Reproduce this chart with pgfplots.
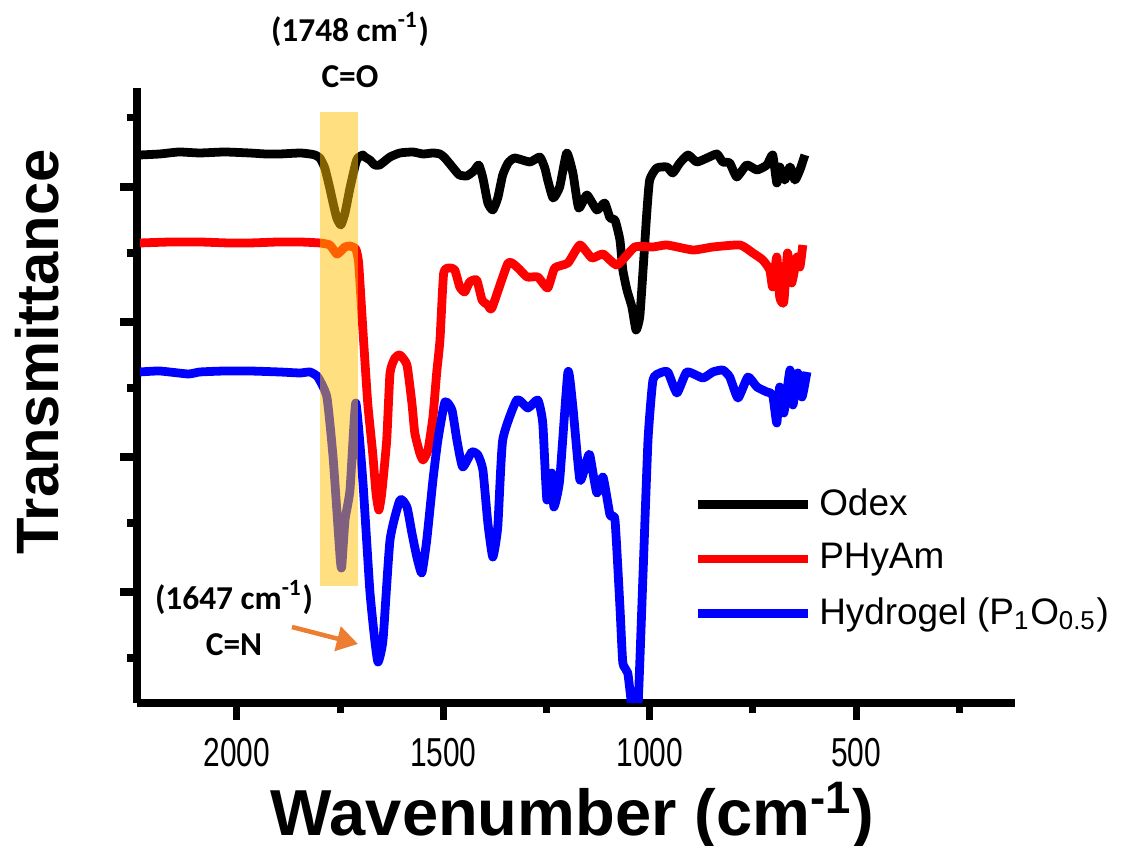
\documentclass[border=0pt]{standalone}
\usepackage{pgfplots}
\pgfplotsset{compat=1.18}
\usepackage{fontspec}
\setmainfont{Liberation Sans}
\newfontfamily\annofont{Carlito}
\newfontfamily\tickfont[FakeStretch=0.74]{Liberation Sans}
\usetikzlibrary{arrows.meta}

\definecolor{bandgold}{HTML}{FFC000}
\definecolor{arroworange}{HTML}{ED7D31}

% FTIR spectra (wavenumber in cm^-1, offset transmittance in arbitrary units)
\pgfplotstableread{
w v
2235 548
2187 549
2140 551
2090 550
2030 551
1969 550
1930 549
1896 549
1847 550
1823 549
1811 548
1799 545
1787 535
1775 515
1767 500
1758 485
1748 478
1738 490
1726 515
1712 540
1707 545
1695 548
1690 546
1678 543
1666 538
1654 538
1629 546
1605 550
1574 551
1549 549
1525 550
1508 549
1496 545
1472 533
1461 528
1443 527
1426 532
1414 538
1404 525
1392 500
1380 493
1368 505
1356 528
1343 540
1327 545
1290 541
1266 546
1254 535
1247 523
1234 505
1218 516
1201 550
1186 530
1172 495
1152 508
1128 493
1109 500
1096 485
1084 483
1072 463
1065 433
1055 413
1043 396
1033 373
1024 386
1016 433
1007 490
1000 523
983 535
958 536
944 530
927 540
907 548
886 541
861 545
837 549
823 541
806 540
789 526
765 538
740 533
716 538
702 548
692 520
685 536
673 523
660 536
648 523
636 533
624 548
}\odex

\pgfplotstableread{
w v
2235 460
2160 461
2090 461
2020 460
1969 460
1900 461
1847 461
1799 460
1775 458
1758 449
1748 452
1738 456
1726 457
1712 454
1705 440
1695 375
1683 300
1671 250
1663 210
1656 193
1649 210
1637 263
1629 330
1617 345
1605 348
1588 338
1576 300
1569 270
1557 250
1549 243
1537 253
1525 286
1516 330
1508 363
1499 430
1484 435
1472 433
1460 416
1448 411
1436 421
1419 423
1406 403
1392 398
1382 395
1343 440
1319 435
1297 426
1271 426
1247 415
1230 435
1198 440
1169 458
1140 445
1113 449
1079 438
1036 456
992 456
958 458
895 453
847 456
781 458
750 450
726 443
709 433
702 416
692 446
685 406
675 401
666 450
656 420
643 446
636 436
629 458
}\phyam

\pgfplotstableread{
w v
2235 331
2187 332
2118 329
2090 331
2030 332
1969 332
1896 331
1847 330
1823 331
1804 326
1782 306
1767 246
1750 146
1746 136
1738 183
1726 213
1712 300
1695 223
1678 113
1666 63
1658 41
1646 63
1629 163
1605 203
1588 196
1576 170
1564 146
1552 130
1540 163
1525 223
1513 263
1496 301
1479 293
1467 263
1453 236
1431 251
1416 248
1404 233
1392 180
1380 146
1368 176
1356 263
1322 303
1295 295
1271 303
1259 280
1249 203
1237 230
1232 196
1218 223
1198 331
1186 296
1169 223
1152 243
1145 248
1128 210
1113 226
1096 188
1084 183
1072 96
1065 40
1053 30
1041 -10
1029 -10
1016 130
1004 263
992 323
975 330
956 331
934 310
910 331
871 325
847 331
823 333
806 326
786 305
762 326
740 316
716 311
702 308
692 280
685 316
675 290
660 333
653 298
641 330
631 306
619 331
}\hydrogel

\begin{document}
\begin{tikzpicture}
\useasboundingbox (-1.37,-1.43) rectangle (9.94,7.03);
\begin{axis}[
  at={(0,0)}, anchor=south west,
  scale only axis, width=8.78cm, height=6.15cm,
  x dir=reverse,
  xmin=115, xmax=2242, ymin=0, ymax=615,
  axis x line*=bottom, axis y line*=left,
  axis line style={line width=2.3pt, -},
  tick align=outside,
  major tick length=0.17cm, minor tick length=0.1cm,
  every tick/.style={line width=2pt, black},
  xtick={500,1000,1500,2000},
  minor xtick={250,750,1250,1750},
  ytick={111,246,381,516},
  minor ytick={45,180,315,450,585},
  yticklabels={},
  /pgf/number format/assume math mode=true,
  /pgf/number format/1000 sep={},
  xticklabel style={font=\tickfont\fontsize{11.5pt}{13pt}\selectfont, yshift=-0.06cm},
  xlabel={\textbf{Wavenumber (cm\textsuperscript{-1})}},
  xlabel style={font=\fontsize{18.5pt}{22pt}\selectfont, at={(axis description cs:0.496,-0.215)}, anchor=base},
  ylabel={\textbf{Transmittance}},
  ylabel style={font=\fontsize{17pt}{20pt}\selectfont, at={(axis description cs:-0.114,0.571)}, anchor=center},
  clip mode=individual,
  legend cell align=left,
  legend style={draw=none, fill=none, font=\fontsize{10.5pt}{12pt}\selectfont,
    at={(axis description cs:0.621,0.373)}, anchor=north west, row sep=2.6pt},
  legend image code/.code={\draw[#1] (0cm,0cm) -- (1.1cm,0cm);},
  every axis plot/.append style={line width=2.5pt, line join=round, smooth, tension=0.3},
]
\addplot[black] table[x=w, y=v] {\odex};
\addlegendentry{Odex}
\addplot[red] table[x=w, y=v] {\phyam};
\addlegendentry{PHyAm}
\addplot[blue] table[x=w, y=v] {\hydrogel};
\addlegendentry{Hydrogel (P\textsubscript{1}O\textsubscript{0.5})}
% highlighted C=O band
\fill[bandgold, opacity=0.5] (axis cs:1799,117) rectangle (axis cs:1707,591);
\end{axis}
% peak annotations
\node[font=\annofont\bfseries\fontsize{9.5pt}{11pt}\selectfont, align=center] at (2.13,6.53)
  {(1748 cm\textsuperscript{-1})\\[2pt]C=O};
\node[font=\annofont\bfseries\fontsize{9.5pt}{11pt}\selectfont, align=center] at (0.97,0.85)
  {(1647 cm\textsuperscript{-1})\\[2pt]C=N};
\draw[arroworange, line width=1.3pt, -{Triangle[length=6pt, width=7pt]}] (1.55,0.76) -- (2.21,0.59);
\end{tikzpicture}
\end{document}
